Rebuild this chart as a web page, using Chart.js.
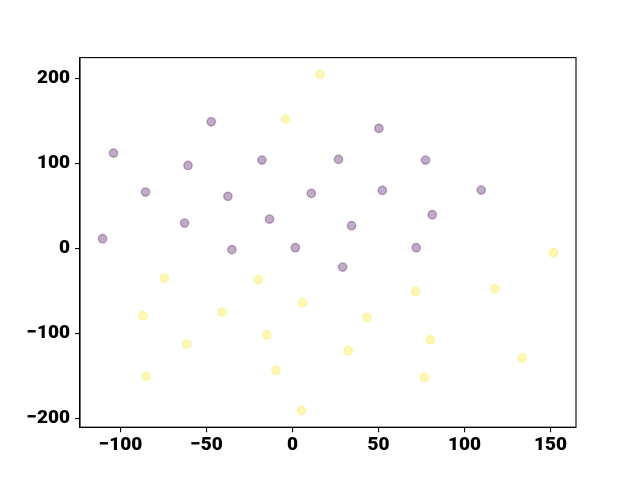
<!DOCTYPE html>
<html>
<head>
<meta charset="utf-8">
<script src="https://cdn.jsdelivr.net/npm/chart.js@4/dist/chart.umd.min.js"></script>
<style>
  html, body { margin: 0; padding: 0; background: #fff; }
  #wrap { width: 640px; height: 480px; position: relative; }
</style>
</head>
<body>
<div id="wrap"><canvas id="chart"></canvas></div>
<script>
// pontos (grupo roxo e grupo amarelo)
const purpleX = [-47.3, -104.1, -60.8, -17.8, -85.5, -37.6, 10.9, -62.8, -13.4, -110.5, -35.3, 1.6, 50.2, 26.7, 77.3, 52.2, 109.7, 81.2, 34.3, 71.9, 29.1];
const purpleY = [149.0, 112.1, 97.6, 103.9, 66.3, 61.2, 64.7, 29.8, 34.5, 11.4, -1.5, 0.8, 141.2, 104.7, 103.9, 68.2, 68.6, 39.6, 26.7, 0.8, -22.0];

const yellowX = [15.9, -4.1, 151.7, 117.7, 71.5, 43.3, 80.2, 32.4, 133.5, 76.6, -74.6, -19.9, 5.8, -87.0, -41.0, -15.1, -61.6, -9.7, -85.1, 5.2];
const yellowY = [204.7, 152.1, -5.1, -47.5, -50.6, -81.2, -107.5, -120.4, -129.0, -151.8, -34.9, -36.9, -63.9, -79.2, -74.9, -101.6, -112.6, -143.5, -150.6, -190.6];

const xTicks = [-100, -50, 0, 50, 100, 150];
const yTicks = [-200, -100, 0, 100, 200];

const toPoints = (xs, ys) => xs.map((x, i) => ({ x: x, y: ys[i] }));

// moldura completa (topo e direita também)
const frame = {
    id: 'frame',
    afterDraw(chart) {
        const a = chart.chartArea;
        const ctx = chart.ctx;
        ctx.save();
        ctx.strokeStyle = '#000';
        ctx.lineWidth = 1.1;
        ctx.strokeRect(a.left, a.top, a.right - a.left, a.bottom - a.top);
        ctx.restore();
    }
};

const tickFont = { family: 'Roboto', weight: '900', size: 19 };

new Chart(document.getElementById('chart'), {
    type: 'scatter',
    data: {
        datasets: [{
            data: toPoints(purpleX, purpleY),
            backgroundColor: 'rgba(68, 1, 84, 0.33)',
            borderColor: 'rgba(68, 1, 84, 0.33)',
            borderWidth: 1.39,
            pointRadius: 4.17,
            pointHoverRadius: 4.17
        }, {
            data: toPoints(yellowX, yellowY),
            backgroundColor: 'rgba(253, 231, 37, 0.33)',
            borderColor: 'rgba(253, 231, 37, 0.33)',
            borderWidth: 1.39,
            pointRadius: 4.17,
            pointHoverRadius: 4.17
        }]
    },
    options: {
        responsive: true,
        maintainAspectRatio: false,
        animation: false,
        layout: { padding: { top: 57.6, right: 64, left: 0, bottom: 0 } },
        plugins: { legend: { display: false }, tooltip: { enabled: false } },
        scales: {
            x: {
                type: 'linear',
                min: -123.6,
                max: 164.8,
                afterBuildTicks: s => { s.ticks = xTicks.map(v => ({ value: v })); },
                afterFit: s => { s.height = 52.8; },
                grid: { display: true, drawOnChartArea: false, drawTicks: true, tickLength: 5, color: '#000', lineWidth: 1.1 },
                border: { display: true, color: '#000', width: 1.1 },
                ticks: { color: '#000', font: tickFont, padding: 2, maxRotation: 0, autoSkip: false,
                         callback: v => String(v).replace('-', '\u2212') }
            },
            y: {
                type: 'linear',
                min: -210.4,
                max: 224.5,
                afterBuildTicks: s => { s.ticks = yTicks.map(v => ({ value: v })); },
                afterFit: s => { s.width = 80; },
                grid: { display: true, drawOnChartArea: false, drawTicks: true, tickLength: 5, color: '#000', lineWidth: 1.1 },
                border: { display: true, color: '#000', width: 1.1 },
                ticks: { color: '#000', font: tickFont, padding: 5, autoSkip: false,
                         callback: v => String(v).replace('-', '\u2212') }
            }
        }
    },
    plugins: [frame]
});
</script>
</body>
</html>
